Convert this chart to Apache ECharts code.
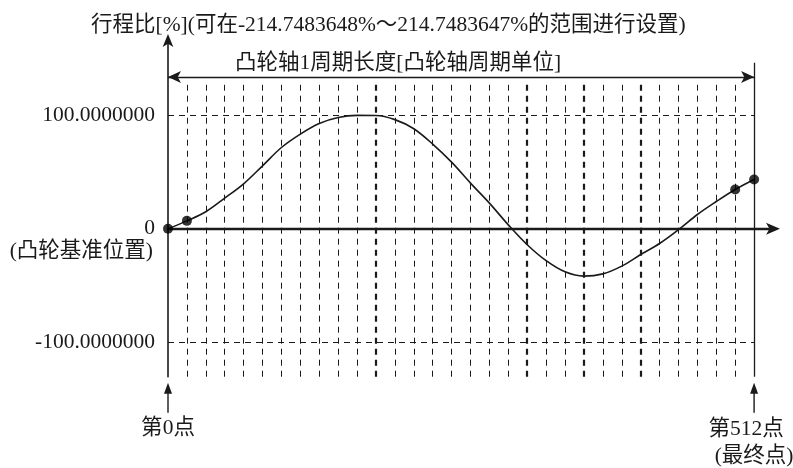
<!DOCTYPE html>
<html>
<head>
<meta charset="utf-8">
<script src="https://cdn.jsdelivr.net/npm/echarts@6/dist/echarts.min.js"></script>
<style>
  html, body { margin: 0; background: #fff; }
  #chart { width: 793px; height: 468px; }
</style>
</head>
<body>
<div id="chart"></div>
<script>
// 凸轮点编号 (0 ~ 31 个分割) 与行程比 [%]
const pointIndex = [0, 1, 2, 3, 4, 5, 6, 7, 8, 9, 10, 11, 12, 13, 14, 15,
  16, 17, 18, 19, 20, 21, 22, 23, 24, 25, 26, 27, 28, 29, 30, 31];
const strokeRatio = [0, 7, 15, 27, 39.6, 55.4, 71.5, 83.3, 92.6, 97.9, 99.7, 99.6,
  96, 88, 74.5, 58.6, 40.2, 22.6, 3.5, -14, -28, -37.8, -41.6, -39.6,
  -32.8, -22.6, -12.9, -0.8, 12.6, 24, 34.6, 43.4];
const markedPoints = [0, 1, 30, 31];
const gridLineIndex = [1, 2, 3, 4, 5, 6, 7, 8, 9, 10, 11, 12, 13, 14, 15,
  16, 17, 18, 19, 20, 21, 22, 23, 24, 25, 26, 27, 28, 29, 30];
const boldGridIndex = [11, 19, 22, 25];
const yTickValues = [-100, 0, 100];

const FONT = "'Liberation Serif', 'Noto Sans CJK SC', serif";
const FS = 21.5;
const INK = '#1a1a1a';
const Y_MIN = -130, Y_MAX = 166;
const DASH_TOP = 126.6;      // 虚线上端
const PERIOD_Y = 133.4;      // 周期长度箭头
const RIGHT_TOP = 146;       // 最终点竖线上端
const lastPoint = pointIndex[pointIndex.length - 1];

const chart = echarts.init(document.getElementById('chart'));

// 竖向虚线 + ±100 横向虚线 + 右端实线
const guideLines = gridLineIndex.map(k => [
  { coord: [k, Y_MIN], lineStyle: { type: [6, 5], width: boldGridIndex.includes(k) ? 2.2 : 1, color: INK } },
  { coord: [k, DASH_TOP] }
]);
[100, -100].forEach(v => guideLines.push([
  { coord: [0, v], lineStyle: { type: [6, 5], width: 1, color: INK } },
  { coord: [lastPoint, v] }
]));
guideLines.push([
  { coord: [lastPoint, Y_MIN], lineStyle: { type: 'solid', width: 1.3, color: INK } },
  { coord: [lastPoint, RIGHT_TOP] }
]);

chart.setOption({
  animation: false,
  grid: { left: 168, right: 20, top: 40, bottom: 91.3 },
  xAxis: {
    type: 'value',
    min: 0,
    max: 32,
    axisLine: {
      onZero: true,
      symbol: ['none', 'arrow'],
      symbolSize: [9, 14],
      symbolOffset: [0, 7],
      lineStyle: { color: INK, width: 2.4 }
    },
    axisTick: { show: false },
    axisLabel: { show: false },
    splitLine: { show: false }
  },
  yAxis: {
    type: 'value',
    min: Y_MIN,
    max: Y_MAX,
    axisLine: {
      show: true,
      onZero: false,
      symbol: ['none', 'arrow'],
      symbolSize: [8, 13],
      symbolOffset: [0, 6],
      lineStyle: { color: INK, width: 1.6 }
    },
    axisTick: { show: false },
    splitLine: { show: false },
    axisLabel: {
      customValues: yTickValues,
      margin: 13,
      color: INK,
      fontSize: FS,
      fontFamily: FONT,
      formatter: v => (v === 0 ? '0' : v.toFixed(7))
    }
  },
  series: [
    {
      type: 'line',
      data: pointIndex.map((k, i) => [k, strokeRatio[i]]),
      smooth: 0.35,
      showSymbol: false,
      lineStyle: { color: INK, width: 1.6 },
      silent: true,
      z: 5,
      markLine: {
        silent: true,
        symbol: 'none',
        label: { show: false },
        data: guideLines
      }
    },
    {
      type: 'scatter',
      data: markedPoints.map(i => [pointIndex[i], strokeRatio[i]]),
      symbolSize: 10,
      itemStyle: { color: '#000' },
      z: 6,
      silent: true,
      markLine: {
        silent: true,
        symbol: ['arrow', 'arrow'],
        symbolSize: [9, 13],
        label: { show: false },
        lineStyle: { type: 'solid', color: INK, width: 1.4 },
        data: [[{ coord: [0, PERIOD_Y] }, { coord: [lastPoint, PERIOD_Y] }]]
      }
    }
  ]
});

// 文字与下方箭头
const p0 = chart.convertToPixel({ gridIndex: 0 }, [0, 0]);
const pEnd = chart.convertToPixel({ gridIndex: 0 }, [lastPoint, Y_MIN]);
const bottomY = pEnd[1];

function upArrow(x) {
  return [
    { type: 'line', shape: { x1: x, y1: bottomY + 36, x2: x, y2: bottomY + 14 }, style: { stroke: INK, lineWidth: 1.4 } },
    { type: 'polygon', shape: { points: [[x, bottomY + 6], [x - 4, bottomY + 17], [x + 4, bottomY + 17]] }, style: { fill: INK } }
  ];
}
function label(text, x, y, align) {
  return {
    type: 'text',
    x: x, y: y,
    style: { text: text, fill: INK, font: FS + 'px ' + FONT, align: align || 'left', verticalAlign: 'middle' }
  };
}

chart.setOption({
  graphic: [
    label('行程比[%](可在-214.7483648%～214.7483647%的范围进行设置)', 91, 25),
    label('凸轮轴1周期长度[凸轮轴周期单位]', 235, 63),
    label('(凸轮基准位置)', p0[0] - 15, p0[1] + 23, 'right'),
    label('第0点', p0[0], bottomY + 52, 'center'),
    label('第512点', pEnd[0] - 8, bottomY + 53, 'center'),
    label('(最终点)', pEnd[0], bottomY + 80, 'center')
  ].concat(upArrow(p0[0]), upArrow(pEnd[0]))
});
</script>
</body>
</html>
